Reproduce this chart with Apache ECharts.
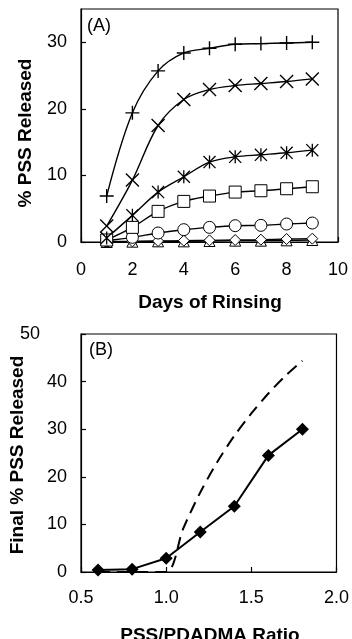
<!DOCTYPE html>
<html><head><meta charset="utf-8">
<script src="https://cdn.jsdelivr.net/npm/echarts@6/dist/echarts.min.js"></script>
<style>html,body{margin:0;padding:0;background:#fff}#c{width:352px;height:639px}</style>
</head><body><div id="c"></div>
<script>
// ---- Data ----
var days = [1, 2, 3, 4, 5, 6, 7, 8, 9];
var ratio18 = [6.9, 19.4, 25.7, 28.4, 29.1, 29.7, 29.8, 29.9, 30.0];
var ratio16 = [2.4, 9.3, 17.5, 21.4, 22.9, 23.5, 23.8, 24.1, 24.5];
var ratio14 = [0.6, 4.0, 7.5, 9.8, 12.0, 12.8, 13.1, 13.4, 13.8];
var ratio12 = [0.3, 2.2, 4.6, 6.1, 6.9, 7.5, 7.7, 8.0, 8.3];
var ratio10 = [0.2, 0.7, 1.35, 1.85, 2.2, 2.45, 2.5, 2.7, 2.85];
var ratio08 = [0.05, 0.1, 0.15, 0.2, 0.25, 0.3, 0.35, 0.45, 0.5];
var ratio06 = [0.0, 0.05, 0.1, 0.1, 0.15, 0.2, 0.2, 0.25, 0.3];

var ratios = [0.6, 0.8, 1.0, 1.2, 1.4, 1.6, 1.8];
var finalReleased = [0.4, 0.6, 2.9, 8.4, 13.8, 24.5, 30.0];
var theoryRatios = [0.6, 0.8, 1.0, 1.1, 1.2, 1.3, 1.4, 1.5, 1.6, 1.7, 1.8];
var theoryReleased = [0, 0, 0, 9.1, 16.7, 23.1, 28.6, 33.3, 37.5, 41.2, 44.4];

var xTicksA = [0, 2, 4, 6, 8, 10];
var yTicksA = [0, 10, 20, 30];
var xTicksB = [0.5, 1.0, 1.5, 2.0];
var yTicksB = [0, 10, 20, 30, 40, 50];

// ---- Symbols ----
var PLUS = 'path://M9,0H11V9H20V11H11V20H9V11H0V9H9Z';
var CROSS = 'path://M0,1.4L1.4,0L20,18.6L18.6,20ZM18.6,0L20,1.4L1.4,20L0,18.6Z';
var STAR = 'path://M0,1.4L1.4,0L20,18.6L18.6,20ZM18.6,0L20,1.4L1.4,20L0,18.6ZM9,0H11V20H9Z';

var FONT = '"Liberation Sans", Arial, sans-serif';
function pair(xs, ys) { return xs.map(function (x, i) { return [x, ys[i]]; }); }

function seriesA(data, symbol, size, filled) {
  return {
    type: 'line', xAxisIndex: 0, yAxisIndex: 0,
    data: pair(days, data), smooth: 0.35,
    symbol: symbol, symbolSize: size, showAllSymbol: true,
    lineStyle: { color: '#000', width: 1.4 },
    itemStyle: filled ? { color: '#000', borderWidth: 0 } : { color: '#fff', borderColor: '#000', borderWidth: 1 },
    emphasis: { disabled: true }, animation: false, z: 3
  };
}

var axisCommon = {
  axisLine: { show: true, lineStyle: { color: '#000', width: 1.2 } },
  axisTick: { show: true, inside: true, length: 5, lineStyle: { color: '#000', width: 1.2 } },
  splitLine: { show: false },
  axisLabel: { color: '#000', fontFamily: FONT, fontSize: 18 }
};
function ax(extra) { return echarts.util.merge(JSON.parse(JSON.stringify(axisCommon)), extra, true); }

var chart = echarts.init(document.getElementById('c'), null, { renderer: 'canvas' });
chart.setOption({
  animation: false,
  backgroundColor: '#fff',
  grid: [
    { left: 81, top: 9, width: 257, height: 233, show: true, borderColor: '#000', borderWidth: 1.2, backgroundColor: 'transparent' },
    { left: 81, top: 334, width: 257, height: 238, show: true, borderColor: '#000', borderWidth: 1.2, backgroundColor: 'transparent' }
  ],
  xAxis: [
    ax({ gridIndex: 0, type: 'value', min: xTicksA[0], max: xTicksA[xTicksA.length - 1], interval: 2,
         axisLabel: { margin: 19 } }),
    ax({ gridIndex: 1, type: 'value', min: xTicksB[0], max: xTicksB[xTicksB.length - 1], interval: 0.5,
         axisLabel: { margin: 17, formatter: function (v) { return v.toFixed(1); } } })
  ],
  yAxis: [
    ax({ gridIndex: 0, type: 'value', min: yTicksA[0], max: 35, interval: 10,
         axisLabel: { margin: 14, showMaxLabel: false } }),
    ax({ gridIndex: 1, type: 'value', min: yTicksB[0], max: yTicksB[yTicksB.length - 1], interval: 10,
         axisLabel: { margin: 14,
           formatter: function (v) { return v === 50 ? '{s|50}' : String(v); },
           rich: { s: { fontSize: 18, fontFamily: FONT, color: '#000', padding: [0, 27, 0, 0] } } } })
  ],
  graphic: [
    { type: 'text', left: 87, top: 17, style: { text: '(A)', font: '18px ' + FONT, fill: '#000' } },
    { type: 'text', left: 89, top: 341, style: { text: '(B)', font: '18px ' + FONT, fill: '#000' } },
    { type: 'text', x: 210, y: 303, style: { text: 'Days of Rinsing', font: 'bold 19px ' + FONT, fill: '#000', textAlign: 'center', textVerticalAlign: 'middle' } },
    { type: 'text', x: 26, y: 133, rotation: Math.PI / 2, style: { text: '% PSS Released', font: 'bold 19px ' + FONT, fill: '#000', textAlign: 'center', textVerticalAlign: 'middle' } },
    { type: 'text', x: 210, y: 636, style: { text: 'PSS/PDADMA Ratio', font: 'bold 19px ' + FONT, fill: '#000', textAlign: 'center', textVerticalAlign: 'middle' } },
    { type: 'text', x: 18, y: 455, rotation: Math.PI / 2, style: { text: 'Final % PSS Released', font: 'bold 19px ' + FONT, fill: '#000', textAlign: 'center', textVerticalAlign: 'middle' } }
  ],
  series: [
    seriesA(ratio06, 'triangle', 11, false),
    seriesA(ratio08, 'diamond', 11, false),
    seriesA(ratio10, 'circle', 12, false),
    seriesA(ratio12, 'rect', 12, false),
    seriesA(ratio14, STAR, 13, true),
    seriesA(ratio16, CROSS, 14, true),
    seriesA(ratio18, PLUS, 14, true),
    {
      type: 'line', xAxisIndex: 1, yAxisIndex: 1,
      data: pair(theoryRatios, theoryReleased), smooth: 0.3, symbol: 'none',
      lineStyle: { color: '#000', width: 2, type: [12, 7] }, z: 2
    },
    {
      type: 'line', xAxisIndex: 1, yAxisIndex: 1,
      data: pair(ratios, finalReleased), symbol: 'diamond', symbolSize: 13,
      lineStyle: { color: '#000', width: 2 }, itemStyle: { color: '#000' }, z: 3
    }
  ]
});
</script></body></html>
